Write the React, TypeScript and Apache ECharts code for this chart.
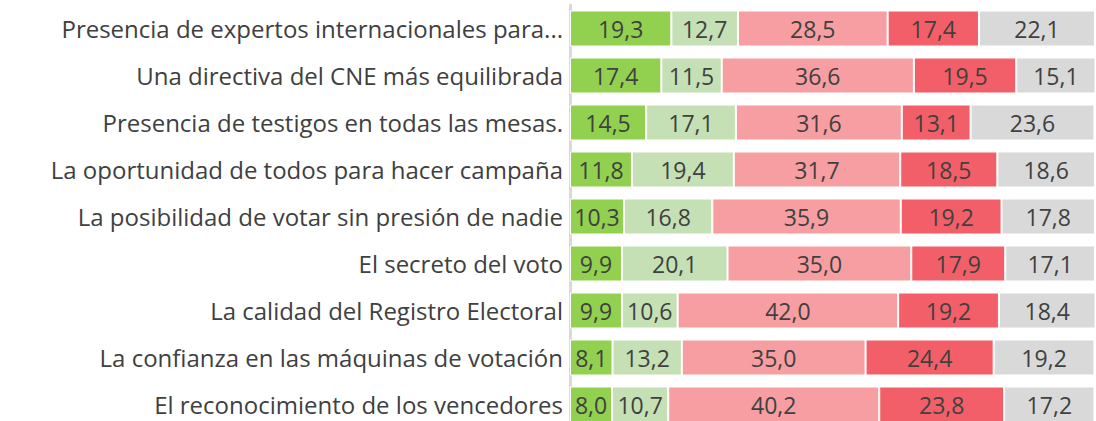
import React, { useEffect, useRef } from "react";
import * as echarts from "echarts";

const categories = [
  "Presencia de expertos internacionales para...",
  "Una directiva del CNE más equilibrada",
  "Presencia de testigos en todas las mesas.",
  "La oportunidad de todos para hacer campaña",
  "La posibilidad de votar sin presión de nadie",
  "El secreto del voto",
  "La calidad del Registro Electoral",
  "La confianza en las máquinas de votación",
  "El reconocimiento de los vencedores",
];

const serie1 = [19.3, 17.4, 14.5, 11.8, 10.3, 9.9, 9.9, 8.1, 8.0];
const serie2 = [12.7, 11.5, 17.1, 19.4, 16.8, 20.1, 10.6, 13.2, 10.7];
const serie3 = [28.5, 36.6, 31.6, 31.7, 35.9, 35.0, 42.0, 35.0, 40.2];
const serie4 = [17.4, 19.5, 13.1, 18.5, 19.2, 17.9, 19.2, 24.4, 23.8];
const serie5 = [22.1, 15.1, 23.6, 18.6, 17.8, 17.1, 18.4, 19.2, 17.2];

const seriesData = [serie1, serie2, serie3, serie4, serie5];
const colors = ["#92d050", "#c5e0b4", "#f79ea2", "#f35f68", "#d9d9d9"];

const FONT = "Open Sans";

export default function App() {
  const ref = useRef<HTMLDivElement>(null);
  useEffect(() => {
    if (!ref.current) return;
    const chart = echarts.init(ref.current, null, { renderer: "svg" });
    chart.setOption({
      animation: false,
      grid: { left: 570, top: 5, width: 525, height: 423, containLabel: false },
      xAxis: {
        type: "value",
        min: 0,
        max: 100,
        show: false,
      },
      yAxis: {
        type: "category",
        data: categories,
        inverse: true,
        axisLine: { show: true, lineStyle: { color: "#d9d9d9", width: 3 } },
        axisTick: { show: false },
        axisLabel: {
          color: "#404040",
          fontSize: 24,
          fontFamily: FONT,
          margin: 7,
        },
      },
      series: seriesData.map((d, i) => ({
        type: "bar",
        stack: "total",
        data: d,
        barWidth: 36,
        itemStyle: { color: colors[i], borderColor: "#ffffff", borderWidth: 1 },
        label: {
          show: true,
          position: "inside",
          color: "#404040",
          fontSize: 23,
          fontFamily: FONT,
          formatter: (p: any) => Number(p.value).toFixed(1).replace(".", ","),
        },
      })),
    });
    return () => chart.dispose();
  }, []);
  return <div ref={ref} style={{ width: 1096, height: 440, position: "absolute", left: 0, top: 0 }} />;
}
